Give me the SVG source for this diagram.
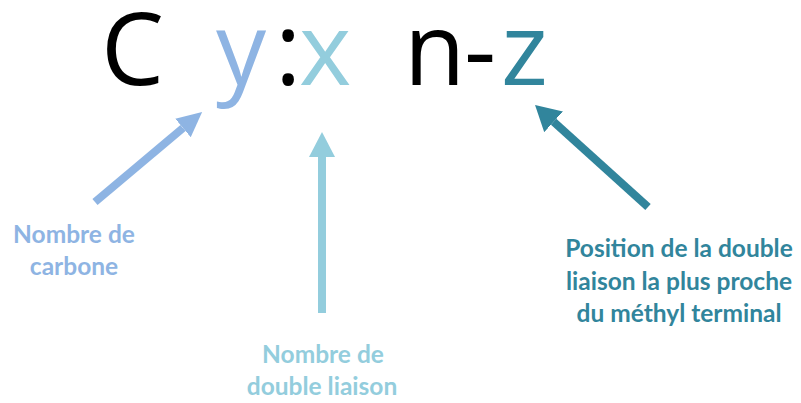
<svg xmlns="http://www.w3.org/2000/svg" width="801" height="403" viewBox="0 0 801 403">
<defs>
<style>
.big{font-family:"Open Sans","DejaVu Sans",sans-serif;font-size:100px;}
.lbl{font-family:Lato,"Liberation Sans",sans-serif;font-weight:bold;font-size:24.5px;text-anchor:middle;}
.c1{fill:#8EB4E3}.c2{fill:#93CDDD}.c3{fill:#31859C}.k{fill:#000}
.shaft{stroke-width:8;fill:none;stroke-linecap:butt}
</style>
<marker id="h1" markerUnits="userSpaceOnUse" markerWidth="26" markerHeight="26" viewBox="0 0 26 26" refX="0" refY="13" orient="auto"><path d="M0,1 L25,13 L0,25 z" fill="#8EB4E3"/></marker>
<marker id="h2" markerUnits="userSpaceOnUse" markerWidth="26" markerHeight="26" viewBox="0 0 26 26" refX="0" refY="13" orient="auto"><path d="M0,0 L25,13 L0,26 z" fill="#93CDDD"/></marker>
<marker id="h3" markerUnits="userSpaceOnUse" markerWidth="28" markerHeight="28" viewBox="0 0 28 28" refX="0" refY="14" orient="auto"><path d="M0,0 L25,14 L0,28 z" fill="#31859C"/></marker>
</defs>
<rect width="801" height="403" fill="#fff"/>
<g id="formula">
<text class="big" y="85"><tspan class="k" x="101">C</tspan><tspan class="c1" x="216">y</tspan><tspan class="k" x="275">:</tspan><tspan class="c2" x="299">x</tspan><tspan class="k" x="404">n</tspan><tspan class="k" x="464">-</tspan><tspan class="c3" x="501">z</tspan></text>
</g>
<g id="connectors">
<line class="shaft" stroke="#8EB4E3" x1="95" y1="202" x2="183" y2="128" marker-end="url(#h1)"/>
<line class="shaft" stroke="#93CDDD" x1="322" y1="313" x2="322" y2="157" marker-end="url(#h2)"/>
<line class="shaft" stroke="#31859C" x1="648" y1="207" x2="553.6" y2="121.8" marker-end="url(#h3)"/>
</g>
<g id="label-carbone">
<text class="lbl c1" x="74" y="243">Nombre de</text>
<text class="lbl c1" x="74" y="275">carbone</text>
</g>
<g id="label-double">
<text class="lbl c2" x="323" y="363">Nombre de</text>
<text class="lbl c2" x="322" y="395">double liaison</text>
</g>
<g id="label-position">
<text class="lbl c3" x="679" y="257">Position de la double</text>
<text class="lbl c3" x="679" y="290">liaison la plus proche</text>
<text class="lbl c3" x="679" y="322">du méthyl terminal</text>
</g>
</svg>
